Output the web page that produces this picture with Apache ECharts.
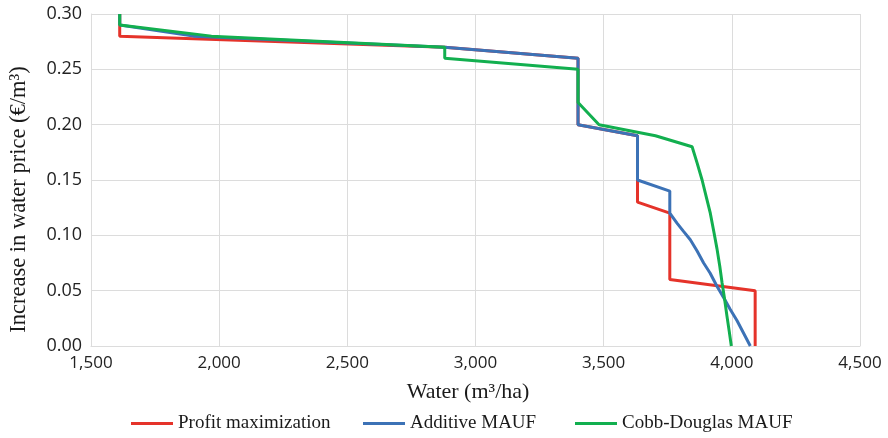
<!DOCTYPE html>
<html>
<head>
<meta charset="utf-8">
<script src="https://cdn.jsdelivr.net/npm/echarts@6/dist/echarts.min.js"></script>
<style>
  html, body { margin: 0; padding: 0; background: #ffffff; }
  #chart { width: 888px; height: 438px; }
</style>
</head>
<body>
<div id="chart"></div>
<script>
// Water demand curves: price increase (€/m³) against water use (m³/ha)
const xTicks = [1500, 2000, 2500, 3000, 3500, 4000, 4500];
const yTicks = [0.00, 0.05, 0.10, 0.15, 0.20, 0.25, 0.30];

const profitWater = [1612, 1612, 2880, 3400, 3400, 3632, 3632, 3758, 3758, 4091, 4091];
const profitPrice = [0.30, 0.28, 0.27, 0.26, 0.20, 0.19, 0.13, 0.12, 0.06, 0.05, 0.00];

const additiveWater = [1612, 1612, 1900, 2880, 3400, 3400, 3632, 3632, 3758, 3758, 3786, 3810, 3838, 3864, 3890, 3915, 3942, 3970, 3994, 4020, 4045, 4072];
const additivePrice = [0.30, 0.29, 0.28, 0.27, 0.26, 0.20, 0.19, 0.15, 0.14, 0.12, 0.111, 0.104, 0.096, 0.086, 0.075, 0.066, 0.054, 0.043, 0.033, 0.023, 0.012, 0.00];

const cobbWater = [1612, 1612, 1970, 2880, 2880, 3400, 3400, 3482, 3702, 3845, 3865, 3884, 3900, 3916, 3930, 3942, 3953, 3962, 3972, 3981, 3990, 3998];
const cobbPrice = [0.30, 0.29, 0.28, 0.27, 0.26, 0.25, 0.22, 0.20, 0.19, 0.18, 0.165, 0.15, 0.135, 0.12, 0.103, 0.088, 0.072, 0.057, 0.042, 0.027, 0.013, 0.00];

const seriesNames = ['Profit maximization', 'Additive MAUF', 'Cobb-Douglas MAUF'];
const seriesColors = ['#E5332A', '#3C72B6', '#12AF4F'];

function pairs(xs, ys) {
  return xs.map((x, i) => [x, ys[i]]);
}

const chart = echarts.init(document.getElementById('chart'), null, { renderer: 'canvas' });

const gridColor = '#dcdcdc';
const sans = '"Open Sans", "Liberation Sans", sans-serif';
const serif = '"Liberation Serif", "DejaVu Serif", serif';

const curves = [
  pairs(profitWater, profitPrice),
  pairs(additiveWater, additivePrice),
  pairs(cobbWater, cobbPrice)
];

// one legend block per entry so each entry sits at its own offset
const legendLefts = [131, 363, 575];

chart.setOption({
  animation: false,
  backgroundColor: '#ffffff',
  grid: { left: 89, right: 28, top: 14, bottom: 92, containLabel: false },
  legend: seriesNames.map((n, i) => ({
    data: [{ name: n, icon: 'rect' }],
    left: legendLefts[i],
    top: 414,
    padding: 0,
    itemWidth: 42,
    itemHeight: 3,
    textStyle: { fontFamily: serif, fontSize: 19, color: '#1a1a1a' }
  })),
  xAxis: {
    type: 'value',
    min: xTicks[0],
    max: xTicks[xTicks.length - 1],
    interval: 500,
    name: 'Water (m³/ha)',
    nameLocation: 'middle',
    nameGap: 35,
    nameTextStyle: { fontFamily: serif, fontSize: 22, color: '#1a1a1a', padding: [0, 15, 0, 0] },
    axisLine: { show: true, lineStyle: { color: gridColor, width: 1 } },
    axisTick: { show: false },
    axisLabel: {
      margin: 9,
      fontFamily: sans,
      fontSize: 17,
      color: '#222222',
      formatter: v => v.toLocaleString('en-US')
    },
    splitLine: { show: true, lineStyle: { color: gridColor, width: 1 } }
  },
  yAxis: {
    type: 'value',
    min: yTicks[0],
    max: yTicks[yTicks.length - 1],
    interval: 0.05,
    name: 'Increase in water price (€/m³)',
    nameLocation: 'middle',
    nameGap: 60,
    nameTextStyle: { fontFamily: serif, fontSize: 22.5, color: '#1a1a1a', padding: [0, 39, 0, 0] },
    axisLine: { show: true, lineStyle: { color: gridColor, width: 1 } },
    axisTick: { show: false },
    axisLabel: {
      margin: 9,
      fontFamily: sans,
      fontSize: 18,
      color: '#222222',
      formatter: v => v.toFixed(2)
    },
    splitLine: { show: true, lineStyle: { color: gridColor, width: 1 } }
  },
  series: seriesNames.map((name, i) => ({
    name: name,
    type: 'line',
    data: curves[i],
    symbol: 'none',
    color: seriesColors[i],
    lineStyle: { color: seriesColors[i], width: 3 },
    z: 2 + i
  }))
});
</script>
</body>
</html>
